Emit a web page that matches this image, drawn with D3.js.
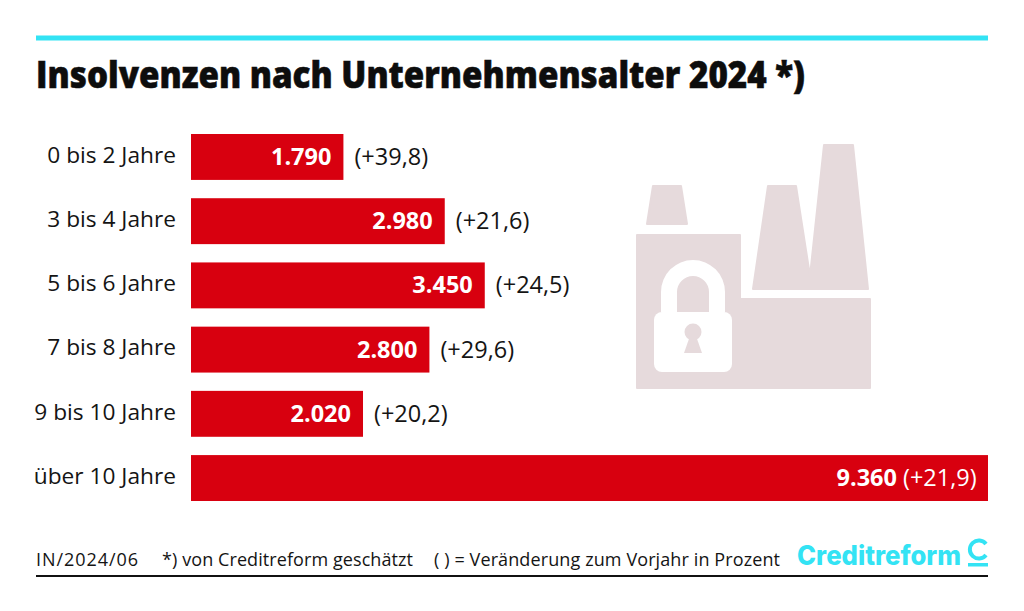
<!DOCTYPE html>
<html><head><meta charset="utf-8">
<script src="https://cdn.jsdelivr.net/npm/d3@7"></script>
<style>html,body{margin:0;padding:0;background:#fff}svg{display:block}text{font-family:"Open Sans",sans-serif;fill:#141414}</style>
</head><body><svg id="c" width="1024" height="611"></svg>
<script>
const categories=["0 bis 2 Jahre","3 bis 4 Jahre","5 bis 6 Jahre","7 bis 8 Jahre","9 bis 10 Jahre","über 10 Jahre"];
const values=[1790,2980,3450,2800,2020,9360];
const changes=["(+39,8)","(+21,6)","(+24,5)","(+29,6)","(+20,2)","(+21,9)"];
const valueLabels=["1.790","2.980","3.450","2.800","2.020","9.360"];
const titleText="Insolvenzen nach Unternehmensalter 2024 *)";

const svg=d3.select("#c");
const x=d3.scaleLinear().domain([0,9360]).range([191,988]);
const y=d3.scaleBand().domain(categories).range([134,501]).paddingInner(0.285).paddingOuter(0);
const rows=categories.map((c,i)=>({c,v:values[i],d:changes[i],l:valueLabels[i]}));

svg.append("rect").attr("x",36).attr("y",35.5).attr("width",952).attr("height",5).attr("fill","#33e3f4");
svg.append("text").attr("x",36).attr("y",88).attr("font-size",37.5).attr("font-weight",800).style("fill","#0d0d0d")
  .attr("stroke","#0d0d0d").attr("stroke-width",0.6)
  .attr("textLength",769).attr("lengthAdjust","spacingAndGlyphs").text(titleText);

// decorative icon
const ic="#e6dadc";
const icon=svg.append("g");
icon.append("path").attr("fill",ic).attr("stroke",ic).attr("stroke-width",2).attr("stroke-linejoin","round")
 .attr("d","M653 186H681L687 224H647Z");
icon.append("path").attr("fill",ic).attr("stroke",ic).attr("stroke-width",2).attr("stroke-linejoin","round")
 .attr("d","M637 235H740V299H870V388H637Z");
icon.append("path").attr("fill",ic).attr("stroke",ic).attr("stroke-width",2).attr("stroke-linejoin","round")
 .attr("d","M768 186H796L810 276L824 145H853L868 289H753Z");
icon.append("path").attr("fill","#fff").attr("fill-rule","evenodd")
 .attr("d","M661 312V292A32 32 0 0 1 725 292V312ZM677 312H709V292A16 16 0 0 0 677 292Z");
icon.append("rect").attr("x",654).attr("y",312).attr("width",78).attr("height",60).attr("rx",8).attr("fill","#fff");
icon.append("circle").attr("cx",693).attr("cy",332).attr("r",8.5).attr("fill",ic);
icon.append("path").attr("fill",ic).attr("d","M690 336H696L702 353H684Z");

// bars
svg.append("g").selectAll("rect").data(rows).join("rect")
  .attr("x",x(0)).attr("y",d=>y(d.c)).attr("width",d=>x(d.v)-x(0)).attr("height",y.bandwidth()).attr("fill","#d8000f");

// axis
const ax=svg.append("g").attr("transform","translate(191,0)").call(d3.axisLeft(y).tickSize(0).tickPadding(15));
ax.select(".domain").remove();
ax.selectAll("text").attr("font-size",22.7).attr("font-family",'"Open Sans",sans-serif').attr("fill","#141414").attr("dy","0.25em");

const mid=d=>y(d.c)+y.bandwidth()/2+8;
const isLast=(d)=>d.v===d3.max(values);
svg.append("g").selectAll("text").data(rows).join("text")
  .attr("x",d=>isLast(d)?x(d.v)-91:x(d.v)-12).attr("y",mid).attr("text-anchor","end")
  .attr("font-size",23.5).attr("font-weight",700).style("fill","#fff").text(d=>d.l);
svg.append("g").selectAll("text").data(rows).join("text")
  .attr("x",d=>isLast(d)?x(d.v)-85:x(d.v)+11).attr("y",mid)
  .attr("font-size",23.5).style("fill",d=>isLast(d)?"#fff":"#141414").text(d=>d.d);

// footer
const f=svg.append("g").attr("font-size",18);
f.append("text").attr("x",36).attr("y",566).attr("textLength",102).text("IN/2024/06");
f.append("text").attr("x",162).attr("y",566).attr("textLength",251).text("*) von Creditreform geschätzt");
f.append("text").attr("x",434).attr("y",566).attr("textLength",346).text("( ) = Veränderung zum Vorjahr in Prozent");
svg.append("rect").attr("x",36).attr("y",575).attr("width",952).attr("height",2).attr("fill","#111");

// logo
svg.append("text").attr("x",797).attr("y",565).attr("font-size",27).attr("font-weight",800).style("font-family","Inter,sans-serif").style("fill","#33e3f4")
  .attr("textLength",164).attr("lengthAdjust","spacingAndGlyphs").text("Creditreform");
svg.append("path").attr("fill","none").attr("stroke","#33e3f4").attr("stroke-width",4)
  .attr("d","M986 544A9 9 0 1 0 986 555");
svg.append("rect").attr("x",968).attr("y",563).attr("width",20).attr("height",3.5).attr("fill","#33e3f4");
</script></body></html>
